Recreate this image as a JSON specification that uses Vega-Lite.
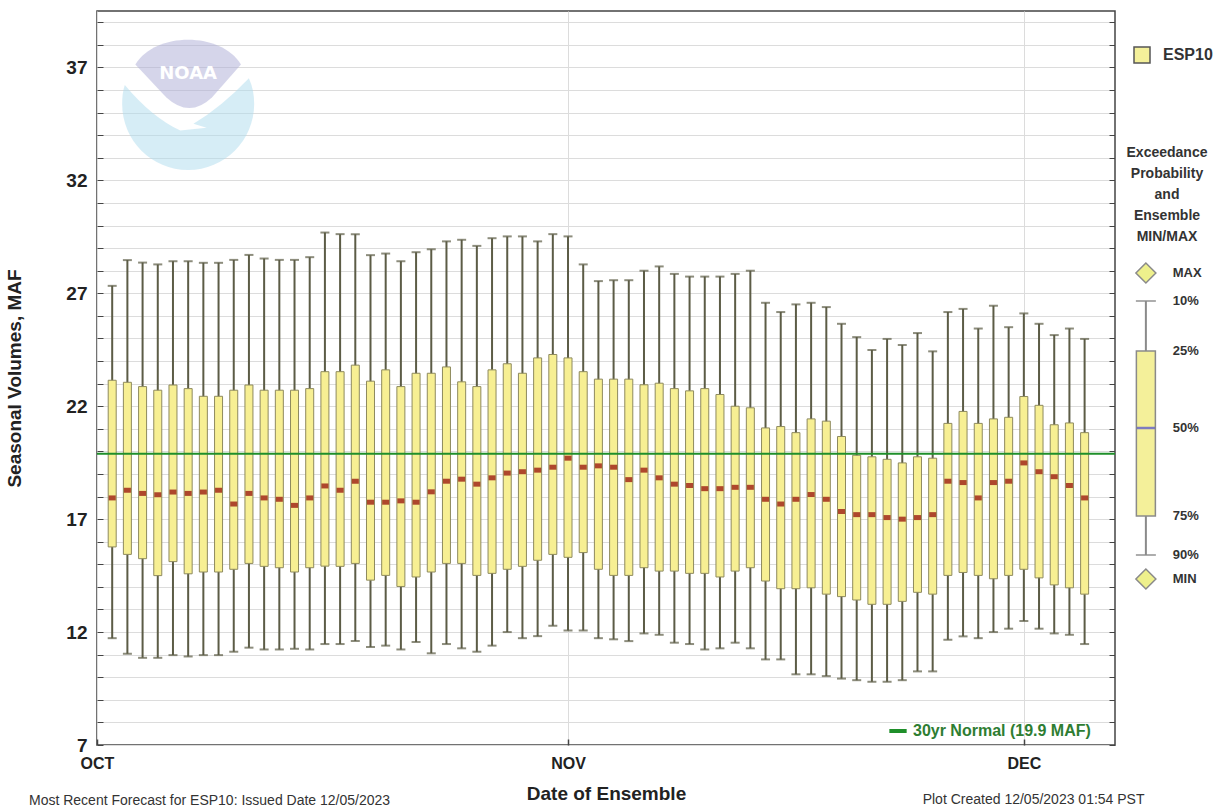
{
  "$schema": "https://vega.github.io/schema/vega-lite/v6.json",
  "background": "#ffffff",
  "padding": {"left": 5, "top": 10, "right": 0, "bottom": 0},
  "spacing": 4,
  "bounds": "flush",
  "config": {"font": "Liberation Sans", "view": {"stroke": null}},
  "datasets": {
    "esp": [
      {"date":"2023-10-02T00:00:00","exc10":27.33,"exc25":23.15,"exc50":17.94,"exc75":15.77,"exc90":11.73},
      {"date":"2023-10-03T00:00:00","exc10":28.47,"exc25":23.06,"exc50":18.28,"exc75":15.44,"exc90":11.04},
      {"date":"2023-10-04T00:00:00","exc10":28.36,"exc25":22.87,"exc50":18.14,"exc75":15.25,"exc90":10.86},
      {"date":"2023-10-05T00:00:00","exc10":28.28,"exc25":22.71,"exc50":18.08,"exc75":14.50,"exc90":10.86},
      {"date":"2023-10-06T00:00:00","exc10":28.42,"exc25":22.94,"exc50":18.20,"exc75":15.12,"exc90":10.98},
      {"date":"2023-10-07T00:00:00","exc10":28.42,"exc25":22.78,"exc50":18.14,"exc75":14.58,"exc90":10.92},
      {"date":"2023-10-08T00:00:00","exc10":28.35,"exc25":22.44,"exc50":18.20,"exc75":14.66,"exc90":10.98},
      {"date":"2023-10-09T00:00:00","exc10":28.35,"exc25":22.44,"exc50":18.28,"exc75":14.66,"exc90":10.98},
      {"date":"2023-10-10T00:00:00","exc10":28.48,"exc25":22.71,"exc50":17.67,"exc75":14.78,"exc90":11.13},
      {"date":"2023-10-11T00:00:00","exc10":28.70,"exc25":22.94,"exc50":18.14,"exc75":15.04,"exc90":11.31},
      {"date":"2023-10-12T00:00:00","exc10":28.54,"exc25":22.71,"exc50":17.94,"exc75":14.91,"exc90":11.23},
      {"date":"2023-10-13T00:00:00","exc10":28.48,"exc25":22.71,"exc50":17.88,"exc75":14.85,"exc90":11.23},
      {"date":"2023-10-14T00:00:00","exc10":28.48,"exc25":22.71,"exc50":17.61,"exc75":14.66,"exc90":11.26},
      {"date":"2023-10-15T00:00:00","exc10":28.60,"exc25":22.78,"exc50":17.94,"exc75":14.85,"exc90":11.23},
      {"date":"2023-10-16T00:00:00","exc10":29.69,"exc25":23.53,"exc50":18.47,"exc75":14.92,"exc90":11.47},
      {"date":"2023-10-17T00:00:00","exc10":29.62,"exc25":23.53,"exc50":18.28,"exc75":14.91,"exc90":11.47},
      {"date":"2023-10-18T00:00:00","exc10":29.62,"exc25":23.82,"exc50":18.68,"exc75":15.04,"exc90":11.60},
      {"date":"2023-10-19T00:00:00","exc10":28.69,"exc25":23.11,"exc50":17.75,"exc75":14.30,"exc90":11.34},
      {"date":"2023-10-20T00:00:00","exc10":28.76,"exc25":23.61,"exc50":17.75,"exc75":14.51,"exc90":11.40},
      {"date":"2023-10-21T00:00:00","exc10":28.42,"exc25":22.87,"exc50":17.81,"exc75":14.02,"exc90":11.23},
      {"date":"2023-10-22T00:00:00","exc10":28.82,"exc25":23.46,"exc50":17.75,"exc75":14.44,"exc90":11.56},
      {"date":"2023-10-23T00:00:00","exc10":28.95,"exc25":23.46,"exc50":18.21,"exc75":14.66,"exc90":11.06},
      {"date":"2023-10-24T00:00:00","exc10":29.30,"exc25":23.74,"exc50":18.68,"exc75":15.04,"exc90":11.47},
      {"date":"2023-10-25T00:00:00","exc10":29.37,"exc25":23.08,"exc50":18.77,"exc75":15.04,"exc90":11.28},
      {"date":"2023-10-26T00:00:00","exc10":29.10,"exc25":22.87,"exc50":18.55,"exc75":14.51,"exc90":11.13},
      {"date":"2023-10-27T00:00:00","exc10":29.44,"exc25":23.61,"exc50":18.83,"exc75":14.60,"exc90":11.40},
      {"date":"2023-10-28T00:00:00","exc10":29.52,"exc25":23.88,"exc50":19.04,"exc75":14.78,"exc90":12.00},
      {"date":"2023-10-29T00:00:00","exc10":29.52,"exc25":23.46,"exc50":19.10,"exc75":14.91,"exc90":11.73},
      {"date":"2023-10-30T00:00:00","exc10":29.30,"exc25":24.14,"exc50":19.17,"exc75":15.18,"exc90":11.82},
      {"date":"2023-10-31T00:00:00","exc10":29.62,"exc25":24.29,"exc50":19.30,"exc75":15.44,"exc90":12.28},
      {"date":"2023-11-01T00:00:00","exc10":29.52,"exc25":24.14,"exc50":19.70,"exc75":15.31,"exc90":12.07},
      {"date":"2023-11-02T00:00:00","exc10":28.28,"exc25":23.53,"exc50":19.30,"exc75":15.52,"exc90":12.07},
      {"date":"2023-11-03T00:00:00","exc10":27.54,"exc25":23.20,"exc50":19.36,"exc75":14.78,"exc90":11.73},
      {"date":"2023-11-04T00:00:00","exc10":27.58,"exc25":23.20,"exc50":19.30,"exc75":14.51,"exc90":11.68},
      {"date":"2023-11-05T00:00:00","exc10":27.58,"exc25":23.20,"exc50":18.75,"exc75":14.51,"exc90":11.60},
      {"date":"2023-11-06T00:00:00","exc10":28.00,"exc25":22.95,"exc50":19.17,"exc75":14.85,"exc90":11.94},
      {"date":"2023-11-07T00:00:00","exc10":28.19,"exc25":23.02,"exc50":18.83,"exc75":14.70,"exc90":11.88},
      {"date":"2023-11-08T00:00:00","exc10":27.86,"exc25":22.78,"exc50":18.55,"exc75":14.70,"exc90":11.53},
      {"date":"2023-11-09T00:00:00","exc10":27.74,"exc25":22.68,"exc50":18.49,"exc75":14.60,"exc90":11.47},
      {"date":"2023-11-10T00:00:00","exc10":27.74,"exc25":22.78,"exc50":18.35,"exc75":14.60,"exc90":11.23},
      {"date":"2023-11-11T00:00:00","exc10":27.74,"exc25":22.52,"exc50":18.35,"exc75":14.44,"exc90":11.28},
      {"date":"2023-11-12T00:00:00","exc10":27.86,"exc25":22.00,"exc50":18.41,"exc75":14.70,"exc90":11.53},
      {"date":"2023-11-13T00:00:00","exc10":28.00,"exc25":21.93,"exc50":18.41,"exc75":14.85,"exc90":11.28},
      {"date":"2023-11-14T00:00:00","exc10":26.58,"exc25":21.04,"exc50":17.88,"exc75":14.26,"exc90":10.79},
      {"date":"2023-11-15T00:00:00","exc10":26.17,"exc25":21.10,"exc50":17.67,"exc75":13.92,"exc90":10.79},
      {"date":"2023-11-16T00:00:00","exc10":26.51,"exc25":20.83,"exc50":17.88,"exc75":13.92,"exc90":10.13},
      {"date":"2023-11-17T00:00:00","exc10":26.58,"exc25":21.44,"exc50":18.09,"exc75":13.96,"exc90":10.13},
      {"date":"2023-11-18T00:00:00","exc10":26.39,"exc25":21.34,"exc50":17.88,"exc75":13.68,"exc90":10.05},
      {"date":"2023-11-19T00:00:00","exc10":25.65,"exc25":20.66,"exc50":17.34,"exc75":13.57,"exc90":9.94},
      {"date":"2023-11-20T00:00:00","exc10":25.06,"exc25":19.83,"exc50":17.20,"exc75":13.42,"exc90":9.87},
      {"date":"2023-11-21T00:00:00","exc10":24.49,"exc25":19.76,"exc50":17.20,"exc75":13.23,"exc90":9.80},
      {"date":"2023-11-22T00:00:00","exc10":24.98,"exc25":19.65,"exc50":17.07,"exc75":13.23,"exc90":9.80},
      {"date":"2023-11-23T00:00:00","exc10":24.71,"exc25":19.49,"exc50":17.00,"exc75":13.36,"exc90":9.87},
      {"date":"2023-11-24T00:00:00","exc10":25.24,"exc25":19.76,"exc50":17.07,"exc75":13.76,"exc90":10.26},
      {"date":"2023-11-25T00:00:00","exc10":24.43,"exc25":19.70,"exc50":17.20,"exc75":13.68,"exc90":10.26},
      {"date":"2023-11-26T00:00:00","exc10":26.17,"exc25":21.24,"exc50":18.68,"exc75":14.51,"exc90":11.66},
      {"date":"2023-11-27T00:00:00","exc10":26.31,"exc25":21.77,"exc50":18.62,"exc75":14.64,"exc90":11.81},
      {"date":"2023-11-28T00:00:00","exc10":25.44,"exc25":21.24,"exc50":17.94,"exc75":14.51,"exc90":11.73},
      {"date":"2023-11-29T00:00:00","exc10":26.45,"exc25":21.44,"exc50":18.62,"exc75":14.36,"exc90":12.00},
      {"date":"2023-11-30T00:00:00","exc10":25.50,"exc25":21.51,"exc50":18.68,"exc75":14.51,"exc90":12.15},
      {"date":"2023-12-01T00:00:00","exc10":26.11,"exc25":22.43,"exc50":19.49,"exc75":14.78,"exc90":12.49},
      {"date":"2023-12-02T00:00:00","exc10":25.65,"exc25":22.04,"exc50":19.10,"exc75":14.40,"exc90":12.15},
      {"date":"2023-12-03T00:00:00","exc10":25.15,"exc25":21.18,"exc50":18.88,"exc75":14.09,"exc90":11.94},
      {"date":"2023-12-04T00:00:00","exc10":25.44,"exc25":21.26,"exc50":18.49,"exc75":13.96,"exc90":11.88},
      {"date":"2023-12-05T00:00:00","exc10":24.98,"exc25":20.83,"exc50":17.94,"exc75":13.68,"exc90":11.47}
    ],
    "normal": [{"label": "30yr Normal (19.9 MAF)", "volume": 19.9}],
    "legbox": [{"p10": 10, "p25": 25, "p50": 50, "p75": 75, "p90": 90}],
    "legitems": [
      {"label": "MAX", "prob": 0},
      {"label": "10%", "prob": 10},
      {"label": "25%", "prob": 25},
      {"label": "50%", "prob": 50},
      {"label": "75%", "prob": 75},
      {"label": "90%", "prob": 90},
      {"label": "MIN", "prob": 100}
    ]
  },
  "hconcat": [
    {
      "width": 1018,
      "height": 734,
      "view": {"stroke": "#444444", "strokeWidth": 1.5},
      "title": {"text": "Most Recent Forecast for ESP10: Issued Date 12/05/2023", "orient": "bottom", "anchor": "start", "frame": "group", "fontSize": 14, "fontWeight": "normal", "color": "#333333", "dx": -68, "dy": -9, "offset": 0},
      "resolve": {"axis": {"y": "independent"}},
      "layer": [
        {
          "data": {"values": [{"logo": "NOAA"}]},
          "mark": {"type": "point", "shape": "M 0.92 -0.39 C 0.98 -0.26 1 -0.13 1 0 C 1 0.552 0.552 1 0 1 C -0.552 1 -1 0.552 -1 0 C -1 -0.1 -0.99 -0.2 -0.96 -0.29 Q -0.55 0.2 -0.12 0.4 L 0.28 0.36 L 0.08 0.3 Q 0.5 0.05 0.92 -0.39 Z", "size": 17424, "filled": true, "color": "#addbed", "opacity": 0.5, "strokeWidth": 0},
          "encoding": {
            "x": {"datum": {"year": 2023, "month": 10, "date": 7}, "type": "temporal"},
            "y": {"datum": 35.38, "type": "quantitative", "axis": null}
          }
        },
        {
          "data": {"values": [{"logo": "NOAA"}]},
          "mark": {"type": "point", "shape": "M -0.8 -0.6 C -0.5 -1.1 0.5 -1.1 0.8 -0.6 L 0.36 -0.1 Q 0.02 0.22 -0.33 -0.1 Z", "size": 17424, "filled": true, "color": "#ababd5", "opacity": 0.5, "strokeWidth": 0},
          "encoding": {
            "x": {"datum": {"year": 2023, "month": 10, "date": 7}, "type": "temporal"},
            "y": {"datum": 35.38, "type": "quantitative", "axis": null}
          }
        },
        {
          "data": {"values": [{"logo": "NOAA"}]},
          "mark": {"type": "text", "fontSize": 18, "fontWeight": "bold", "color": "#ffffff", "font": "DejaVu Sans"},
          "encoding": {
            "x": {"datum": {"year": 2023, "month": 10, "date": 7}, "type": "temporal"},
            "y": {"datum": 36.7, "type": "quantitative", "axis": null},
            "text": {"field": "logo"}
          }
        },
        {
          "data": {"name": "esp"},
          "mark": {"type": "rule", "color": "#5c5c46", "strokeWidth": 2},
          "encoding": {
            "x": {
              "field": "date", "type": "temporal", "title": "Date of Ensemble",
              "scale": {"domain": [{"year": 2023, "month": 10, "date": 1}, {"year": 2023, "month": 12, "date": 7}], "padding": 0},
              "axis": {
                "values": [{"year": 2023, "month": 10, "date": 1}, {"year": 2023, "month": 11, "date": 1}, {"year": 2023, "month": 12, "date": 1}],
                "format": "%b", "labelExpr": "upper(datum.label)", "labelFlush": false,
                "grid": true, "gridColor": "#dcdcdc", "gridWidth": 1,
                "domain": false, "tickSize": -6, "tickColor": "#444444", "tickWidth": 1.5,
                "labelFontSize": 16, "labelFontWeight": "bold", "labelColor": "#222222", "labelPadding": 16,
                "titleFontSize": 19, "titleFontWeight": "bold", "titleColor": "#222222", "titlePadding": 13
              }
            },
            "y": {
              "field": "exc10", "type": "quantitative", "title": "Seasonal Volumes, MAF",
              "scale": {"domain": [7, 39.5], "nice": false, "zero": false, "padding": 0},
              "axis": {
                "values": [7,8,9,10,11,12,13,14,15,16,17,18,19,20,21,22,23,24,25,26,27,28,29,30,31,32,33,34,35,36,37,38,39],
                "labelExpr": "datum.value % 5 == 2 ? datum.label : ''",
                "grid": true, "gridColor": "#dcdcdc", "gridWidth": 1,
                "domain": false, "tickSize": -6, "tickColor": "#444444",
                "labelFontSize": 19, "labelFontWeight": "bold", "labelColor": "#222222", "labelPadding": 16,
                "titleFontSize": 19, "titleFontWeight": "bold", "titleColor": "#222222", "titlePadding": 41
              }
            },
            "y2": {"field": "exc90"}
          }
        },
        {
          "data": {"name": "esp"},
          "mark": {"type": "tick", "orient": "horizontal", "size": 9, "thickness": 2, "color": "#5c5c46"},
          "encoding": {
            "x": {"field": "date", "type": "temporal"},
            "y": {"field": "exc10", "type": "quantitative", "axis": null}
          }
        },
        {
          "data": {"name": "esp"},
          "mark": {"type": "tick", "orient": "horizontal", "size": 9, "thickness": 2, "color": "#5c5c46"},
          "encoding": {
            "x": {"field": "date", "type": "temporal"},
            "y": {"field": "exc90", "type": "quantitative", "axis": null}
          }
        },
        {
          "data": {"name": "esp"},
          "mark": {"type": "bar", "width": 8, "fill": "#f7ef93", "stroke": "#8e8a5e", "strokeWidth": 1},
          "encoding": {
            "x": {"field": "date", "type": "temporal"},
            "y": {"field": "exc25", "type": "quantitative", "axis": null},
            "y2": {"field": "exc75"}
          }
        },
        {
          "data": {"name": "esp"},
          "mark": {"type": "tick", "orient": "horizontal", "size": 7, "thickness": 5, "color": "#8e0000"},
          "encoding": {
            "x": {"field": "date", "type": "temporal"},
            "y": {"field": "exc50", "type": "quantitative", "axis": null}
          }
        },
        {
          "data": {"name": "normal"},
          "mark": {"type": "rule", "strokeWidth": 2},
          "encoding": {
            "y": {
              "field": "volume", "type": "quantitative",
              "axis": {
                "orient": "right", "title": null, "labels": false, "grid": false, "domain": false,
                "values": [7,8,9,10,11,12,13,14,15,16,17,18,19,20,21,22,23,24,25,26,27,28,29,30,31,32,33,34,35,36,37,38,39],
                "tickSize": -6, "tickColor": "#444444"
              }
            },
            "stroke": {
              "field": "label", "type": "nominal",
              "scale": {"range": ["#1f8f2a"]},
              "legend": {"orient": "none", "legendX": 790, "legendY": 709, "title": null, "symbolType": "stroke", "symbolStrokeWidth": 4, "symbolSize": 300, "labelFontSize": 16, "labelFontWeight": "bold", "labelColor": "#2e7d32", "labelLimit": 400, "padding": 0}
            }
          }
        }
      ]
    },
    {
      "width": 96,
      "height": 734,
      "view": {"stroke": null},
      "title": {"text": ["Exceedance", "Probability", "and", "Ensemble", "MIN/MAX"], "orient": "top", "anchor": "middle", "frame": "group", "fontSize": 14, "fontWeight": "bold", "color": "#333333", "lineHeight": 21, "offset": 0, "dy": 233},
      "layer": [
        {
          "data": {"name": "legbox"},
          "mark": {"type": "rule", "color": "#8a8a8a", "strokeWidth": 2},
          "encoding": {
            "x": {"datum": 0.28, "type": "quantitative", "scale": {"domain": [0, 1], "padding": 0},
              "axis": {"domain": false, "ticks": false, "labels": false, "grid": false, "title": "Plot Created 12/05/2023 01:54 PST", "titleAlign": "right", "titleAnchor": "end", "titleX": 25, "titleY": 54, "titleBaseline": "middle", "titleFontSize": 14, "titleFontWeight": "normal", "titleColor": "#333333"}},
            "y": {"field": "p10", "type": "quantitative", "scale": {"domain": [0, 10, 25, 50, 75, 90, 100], "range": [262, 290, 340, 417, 505, 544, 568], "zero": false, "nice": false}, "axis": null},
            "y2": {"field": "p90"}
          }
        },
        {
          "data": {"name": "legbox"},
          "mark": {"type": "tick", "orient": "horizontal", "size": 20, "thickness": 2, "color": "#8a8a8a"},
          "encoding": {
            "x": {"datum": 0.28, "type": "quantitative"},
            "y": {"field": "p10", "type": "quantitative", "axis": null}
          }
        },
        {
          "data": {"name": "legbox"},
          "mark": {"type": "tick", "orient": "horizontal", "size": 20, "thickness": 2, "color": "#8a8a8a"},
          "encoding": {
            "x": {"datum": 0.28, "type": "quantitative"},
            "y": {"field": "p90", "type": "quantitative", "axis": null}
          }
        },
        {
          "data": {"name": "legbox"},
          "mark": {"type": "bar", "width": 19, "stroke": "#8a8a8a", "strokeWidth": 1.5},
          "encoding": {
            "x": {"datum": 0.28, "type": "quantitative"},
            "y": {"field": "p25", "type": "quantitative", "axis": null},
            "y2": {"field": "p75"},
            "fill": {
              "datum": "ESP10", "type": "nominal",
              "scale": {"range": ["#f4f09a"]},
              "legend": {"orient": "none", "legendX": 1036, "legendY": 35, "title": null, "symbolType": "square", "symbolSize": 256, "symbolStrokeColor": "#555555", "symbolStrokeWidth": 1.5, "labelFontSize": 16, "labelFontWeight": "bold", "labelColor": "#333333", "labelOffset": 12, "padding": 0}
            }
          }
        },
        {
          "data": {"name": "legbox"},
          "mark": {"type": "tick", "orient": "horizontal", "size": 18, "thickness": 2.5, "color": "#4a4ad0"},
          "encoding": {
            "x": {"datum": 0.28, "type": "quantitative"},
            "y": {"field": "p50", "type": "quantitative", "axis": null}
          }
        },
        {
          "data": {"name": "legitems"},
          "transform": [{"filter": "datum.prob == 0 || datum.prob == 100"}],
          "mark": {"type": "point", "shape": "diamond", "size": 400, "filled": true, "fill": "#eef08c", "stroke": "#8a8a8a", "strokeWidth": 1.5, "opacity": 1},
          "encoding": {
            "x": {"datum": 0.28, "type": "quantitative"},
            "y": {"field": "prob", "type": "quantitative", "axis": null}
          }
        },
        {
          "data": {"name": "legitems"},
          "mark": {"type": "text", "align": "left", "baseline": "middle", "fontSize": 13, "fontWeight": "bold", "color": "#333333"},
          "encoding": {
            "x": {"datum": 0.56, "type": "quantitative"},
            "y": {"field": "prob", "type": "quantitative", "axis": null},
            "text": {"field": "label"}
          }
        }
      ]
    }
  ]
}
